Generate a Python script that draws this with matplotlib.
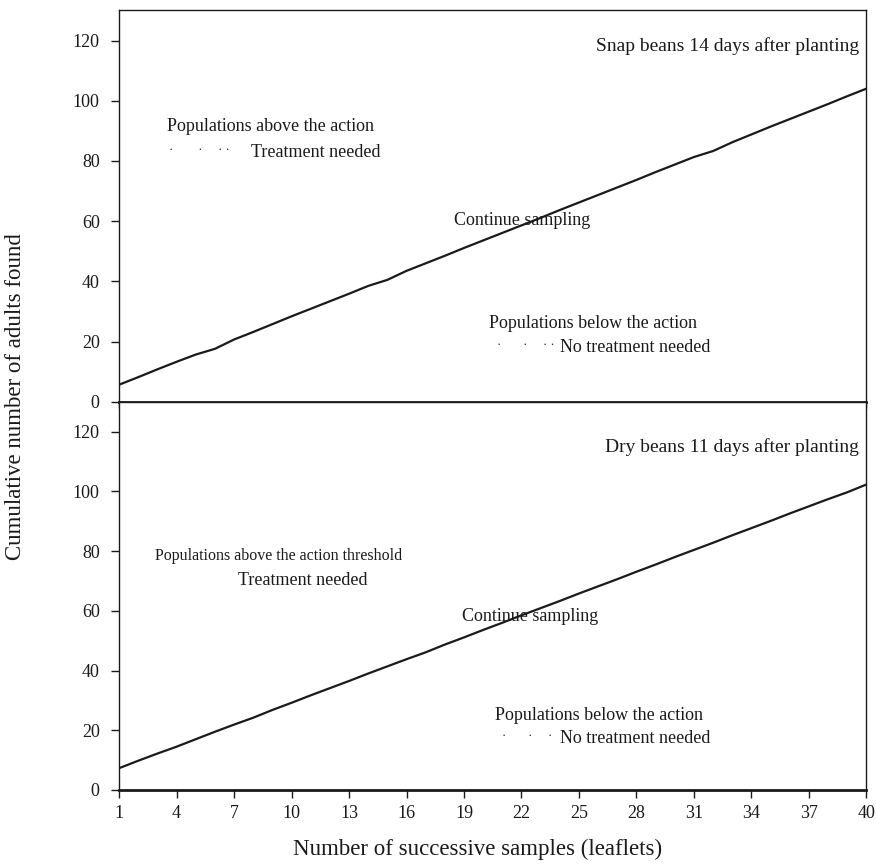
import matplotlib
matplotlib.use("Agg")
import matplotlib.pyplot as plt

plt.rcParams['font.family'] = ['Liberation Serif', 'DejaVu Serif']

# Sample number (successive leaflets)
samples = list(range(1, 41))

# Cumulative adults: stop line for snap beans 14 days after planting
snap_beans = [5.7, 8.2, 10.8, 13.3, 15.7, 17.6, 20.7, 23.2, 25.8, 28.4,
              30.9, 33.4, 35.9, 38.5, 40.5, 43.5, 46.0, 48.5, 51.1, 53.6,
              56.1, 58.6, 61.1, 63.7, 66.2, 68.7, 71.2, 73.7, 76.3, 78.8,
              81.3, 83.3, 86.2, 88.8, 91.4, 93.9, 96.4, 98.9, 101.5, 104.0]

# Cumulative adults: stop line for dry beans 11 days after planting
dry_beans = [7.3, 9.8, 12.2, 14.5, 17.0, 19.5, 21.9, 24.2, 26.8, 29.2,
             31.7, 34.1, 36.5, 39.0, 41.4, 43.8, 46.1, 48.7, 51.1, 53.6,
             56.0, 58.5, 60.9, 63.3, 65.8, 68.2, 70.6, 73.1, 75.5, 78.0,
             80.4, 82.8, 85.3, 87.7, 90.1, 92.6, 95.0, 97.4, 99.7, 102.3]

x_ticks = list(range(1, 41, 3))
y_ticks = [0, 20, 40, 60, 80, 100, 120]

panel_titles = ["Snap beans 14 days after planting",
                "Dry beans 11 days after planting"]

fig = plt.figure(figsize=(8.76, 8.66), dpi=100)
ax_top = fig.add_axes([0.136, 0.536, 0.853, 0.452])
ax_bot = fig.add_axes([0.136, 0.0878, 0.853, 0.4482])

for ax, series in ((ax_top, snap_beans), (ax_bot, dry_beans)):
    ax.plot(samples, series, color='#1a1a1a', lw=1.6)
    ax.set_xlim(1, 40)
    ax.set_ylim(0, 130)
    ax.set_xticks(x_ticks)
    ax.set_yticks(y_ticks)
    ax.tick_params(axis='both', direction='out', length=6, width=1.0,
                   colors='#1a1a1a', labelsize=13)
    ax.tick_params(axis='y', pad=8)
    for s in ax.spines.values():
        s.set_color('#1a1a1a')
        s.set_linewidth(1.0)
    ax.spines['bottom'].set_linewidth(2.0)

ax_top.tick_params(axis='x', labelbottom=False, length=4)
ax_bot.tick_params(axis='x', pad=5)

txt_kw = dict(color='#1a1a1a')
fs = 13

# Top panel annotations
ax_top.text(39.6, 118, panel_titles[0], ha='right', va='center', fontsize=14, **txt_kw)
ax_top.text(3.5, 91.3, "Populations above the action", ha='left', va='center', fontsize=fs, **txt_kw)
ax_top.text(3.6, 83.5, "·        ·     · ·", ha='left', va='center', fontsize=9, **txt_kw)
ax_top.text(7.9, 82.7, "Treatment needed", ha='left', va='center', fontsize=fs, **txt_kw)
ax_top.text(18.5, 60.3, "Continue sampling", ha='left', va='center', fontsize=fs, **txt_kw)
ax_top.text(20.3, 26.0, "Populations below the action", ha='left', va='center', fontsize=fs, **txt_kw)
ax_top.text(20.7, 18.8, "·       ·     · ·", ha='left', va='center', fontsize=9, **txt_kw)
ax_top.text(24.0, 18.0, "No treatment needed", ha='left', va='center', fontsize=fs, **txt_kw)

# Bottom panel annotations
ax_bot.text(39.6, 114.7, panel_titles[1], ha='right', va='center', fontsize=14, **txt_kw)
ax_bot.text(9.3, 78.3, "Populations above the action threshold", ha='center', va='center', fontsize=11.5, **txt_kw)
ax_bot.text(10.6, 70.0, "Treatment needed", ha='center', va='center', fontsize=fs, **txt_kw)
ax_bot.text(18.9, 58.0, "Continue sampling", ha='left', va='center', fontsize=fs, **txt_kw)
ax_bot.text(20.6, 25.0, "Populations below the action", ha='left', va='center', fontsize=fs, **txt_kw)
ax_bot.text(21.0, 18.0, "·       ·     ·", ha='left', va='center', fontsize=9, **txt_kw)
ax_bot.text(24.0, 17.3, "No treatment needed", ha='left', va='center', fontsize=fs, **txt_kw)

fig.text(0.018, 0.542, "Cumulative number of adults found", rotation=90,
         ha='center', va='center', fontsize=16.5, **txt_kw)
fig.text(0.545, 0.019, "Number of successive samples (leaflets)",
         ha='center', va='center', fontsize=16.5, **txt_kw)

fig.savefig("out.png", dpi=100, facecolor='white')
